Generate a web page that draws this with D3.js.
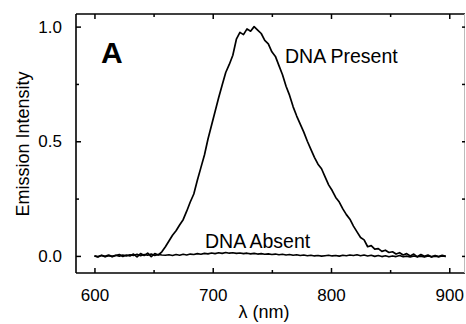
<!DOCTYPE html>
<html>
<head>
<meta charset="utf-8">
<script src="https://cdn.jsdelivr.net/npm/d3@7"></script>
<style>
  html, body { margin: 0; padding: 0; background: #fff; }
  svg text { font-family: "Liberation Sans", Arial, Helvetica, sans-serif; fill: #000; }
</style>
</head>
<body>
<svg id="chart" width="466" height="324"></svg>
<script>
// ---- data ----
const wavelength = d3.range(600, 898, 3); // nm, 600..897
const presentValues = [
  0.000,-0.005,0.003,-0.002,0.004,-0.003,0.002,0.006,-0.002,0.004,
  0.000,0.008,-0.004,0.010,0.002,0.012,-0.003,0.010,0.004,0.018,
  0.040,0.065,0.090,0.110,0.135,0.158,0.195,0.235,0.270,0.330,
  0.385,0.440,0.510,0.570,0.630,0.690,0.745,0.800,0.835,0.875,
  0.945,0.975,0.965,0.990,0.980,1.000,0.985,0.970,0.940,0.925,
  0.890,0.870,0.830,0.790,0.740,0.700,0.650,0.610,0.575,0.540,
  0.500,0.465,0.430,0.400,0.380,0.345,0.310,0.285,0.255,0.235,
  0.205,0.180,0.160,0.130,0.105,0.080,0.070,0.040,0.045,0.030,
  0.032,0.020,0.025,0.015,0.018,0.008,0.014,0.004,0.010,0.000,
  0.008,-0.004,0.006,-0.002,0.004,-0.005,0.002,-0.003,0.003,-0.002
];
const absentValues = [
  0.000,-0.003,0.002,-0.004,0.001,-0.002,0.003,-0.001,0.004,0.000,
  0.005,0.002,0.007,0.001,0.006,0.003,0.008,0.002,0.006,0.004,
  0.003,0.005,0.002,0.006,0.003,0.007,0.004,0.008,0.006,0.010,
  0.007,0.011,0.009,0.013,0.010,0.014,0.011,0.015,0.012,0.014,
  0.011,0.013,0.010,0.012,0.009,0.011,0.008,0.010,0.007,0.009,
  0.006,0.008,0.005,0.007,0.004,0.006,0.003,0.005,0.002,0.004,
  0.001,0.003,0.000,0.002,-0.001,0.001,0.003,0.000,0.002,-0.001,
  0.003,0.001,0.004,0.002,0.005,0.001,0.004,0.000,0.003,-0.002,
  0.002,-0.003,0.001,-0.004,0.000,-0.003,0.002,-0.004,-0.001,-0.005,
  0.000,-0.004,-0.001,-0.005,0.000,-0.003,-0.001,-0.004,0.000,-0.002
];
const xMajorTicks = [600, 700, 800, 900];
const xMinorTicks = [650, 750, 850];
const yMajorTicks = [0.0, 0.5, 1.0];
const yMinorTicks = [0.25, 0.75];
const labels = { present: "DNA Present", absent: "DNA Absent", panel: "A",
                 xTitle: "λ (nm)", yTitle: "Emission Intensity" };

// ---- layout ----
const svg = d3.select("#chart");
const fLeft = 76, fRight = 465, fTop = 14, fBottom = 273;
const x = d3.scaleLinear().domain([584.4, 913.3]).range([fLeft, fRight]);
const y = d3.scaleLinear().domain([-0.0745, 1.055]).range([fBottom, fTop]);

// frame
svg.append("line").attr("x1", fLeft).attr("x2", fRight).attr("y1", fTop).attr("y2", fTop)
  .attr("stroke", "#000").attr("stroke-width", 1.6);
svg.append("line").attr("x1", fLeft).attr("x2", fRight).attr("y1", fBottom).attr("y2", fBottom)
  .attr("stroke", "#000").attr("stroke-width", 1.6);
svg.append("line").attr("x1", fLeft).attr("x2", fLeft).attr("y1", fTop).attr("y2", fBottom)
  .attr("stroke", "#000").attr("stroke-width", 1.6);
svg.append("line").attr("x1", fRight - 0.5).attr("x2", fRight - 0.5).attr("y1", fTop).attr("y2", fBottom)
  .attr("stroke", "#bbb").attr("stroke-width", 1);

function styleAxis(g) {
  g.select(".domain").remove();
  g.selectAll(".tick line").attr("stroke", "#000").attr("stroke-width", 1.5);
  g.selectAll(".tick text").attr("font-size", 17).attr("fill", "#000")
    .attr("font-family", "Liberation Sans, Arial, sans-serif");
}

// bottom axis
svg.append("g").attr("transform", `translate(0,${fBottom})`)
  .call(d3.axisBottom(x).tickValues(xMajorTicks).tickSize(-5).tickPadding(16).tickFormat(d3.format("d")))
  .call(styleAxis);
svg.append("g").attr("transform", `translate(0,${fBottom})`)
  .call(d3.axisBottom(x).tickValues(xMinorTicks).tickSize(-3).tickFormat(""))
  .call(styleAxis);
// top axis
svg.append("g").attr("transform", `translate(0,${fTop})`)
  .call(d3.axisTop(x).tickValues(xMajorTicks).tickSize(-5).tickFormat(""))
  .call(styleAxis);
svg.append("g").attr("transform", `translate(0,${fTop})`)
  .call(d3.axisTop(x).tickValues(xMinorTicks).tickSize(-3).tickFormat(""))
  .call(styleAxis);
// left axis
svg.append("g").attr("transform", `translate(${fLeft},0)`)
  .call(d3.axisLeft(y).tickValues(yMajorTicks).tickSize(-5).tickPadding(14).tickFormat(d3.format(".1f")))
  .call(styleAxis);
svg.append("g").attr("transform", `translate(${fLeft},0)`)
  .call(d3.axisLeft(y).tickValues(yMinorTicks).tickSize(-3).tickFormat(""))
  .call(styleAxis);
// right axis
svg.append("g").attr("transform", `translate(${fRight},0)`)
  .call(d3.axisRight(y).tickValues(yMajorTicks.concat(yMinorTicks)).tickSize(-3).tickFormat(""))
  .call(styleAxis);

// lines
const line = d3.line().x(d => x(d[0])).y(d => y(d[1]));
svg.append("path").datum(wavelength.map((w, i) => [w, absentValues[i]]))
  .attr("d", line).attr("fill", "none").attr("stroke", "#000").attr("stroke-width", 1.6)
  .attr("stroke-linejoin", "round");
svg.append("path").datum(wavelength.map((w, i) => [w, presentValues[i]]))
  .attr("d", line).attr("fill", "none").attr("stroke", "#000").attr("stroke-width", 1.7)
  .attr("stroke-linejoin", "round");

// texts
svg.append("text").attr("x", 101).attr("y", 63).attr("font-size", 30).attr("font-weight", "bold")
  .text(labels.panel);
svg.append("text").attr("x", 285).attr("y", 63).attr("font-size", 19.5).text(labels.present);
svg.append("text").attr("x", 205).attr("y", 248).attr("font-size", 19.5).text(labels.absent);
svg.append("text").attr("x", 264).attr("y", 318).attr("font-size", 18).attr("text-anchor", "middle")
  .text(labels.xTitle);
svg.append("text").attr("transform", "translate(29,144) rotate(-90)").attr("font-size", 18)
  .attr("text-anchor", "middle").text(labels.yTitle);
</script>
</body>
</html>
